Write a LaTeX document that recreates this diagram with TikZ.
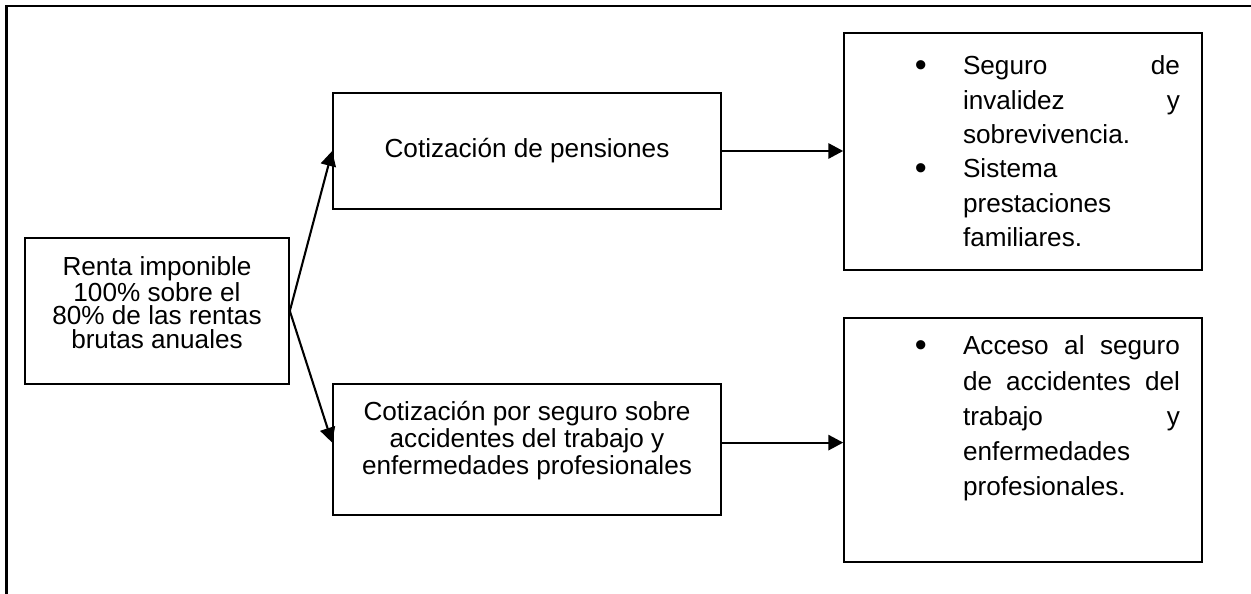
\documentclass[tikz,border=0pt]{standalone}
\usepackage{fontspec}
\setmainfont{Liberation Sans}
\usetikzlibrary{arrows.meta}
\hyphenpenalty=10000
\exhyphenpenalty=10000
\tolerance=10000
\hbadness=10000
\newcommand\vineta{\raisebox{-0.6pt}{\scalebox{1.3}{\textbullet}}}
\newenvironment{vinetas}{\hrule height0pt width\hsize\begin{list}{\vineta}{%
  \setlength{\leftmargin}{1.904cm}\setlength{\rightmargin}{0.352cm}%
  \setlength{\labelsep}{0.58cm}\setlength{\labelwidth}{1cm}%
  \setlength{\itemsep}{0pt}\setlength{\parsep}{0pt}%
  \setlength{\topsep}{0pt}\setlength{\partopsep}{0pt}}}{\end{list}}

\begin{document}
\begin{tikzpicture}[->,>={Triangle[length=6.8pt,width=7pt]},line width=0.95pt]
    \tikzstyle{caja}=[draw=black, line width=0.75pt, inner sep=0pt, text=black, font=\fontsize{11.9}{13.6}\selectfont]
    \tikzstyle{marco}=[draw=black, line width=1.05pt, -]

    \useasboundingbox (0,0) rectangle (20.016,9.504);
    \draw[marco] (0.105,0) -- (0.105,9.405) -- (20.016,9.405);

    \node[caja, minimum width=4.224cm, minimum height=2.336cm, align=center, font=\fontsize{11.9}{10.6}\selectfont] (renta) at (2.512,4.528)
        {Renta imponible\\100\% sobre el\\80\% de las rentas\\brutas anuales\rule[-8pt]{0pt}{8pt}};
    \node[caja, minimum width=6.208cm, minimum height=1.856cm] (pension) at (8.432,7.088) {Cotización de pensiones};
    \node[caja] (accid) at (8.432,2.312)
        {\parbox[c][2.096cm][t]{6.208cm}{\centering\fontsize{11.9}{12.3}\selectfont\rule{0pt}{16.4pt}Cotización por seguro sobre\\accidentes del trabajo y\\enfermedades profesionales}};
    \node[caja] (der1) at (16.368,7.08)
        {\parbox[c][3.792cm][t]{5.728cm}{\fontsize{11.9}{15.6}\selectfont\begin{vinetas}
        \item\rule{0pt}{19.1pt}Seguro de\linebreak invalidez y\linebreak sobrevivencia.
        \item Sistema\linebreak prestaciones\linebreak familiares.
        \end{vinetas}}};
    \node[caja] (der2) at (16.368,2.464)
        {\parbox[c][3.904cm][t]{5.728cm}{\fontsize{11.9}{16}\selectfont\begin{vinetas}
        \item\rule{0pt}{16.8pt}Acceso al seguro\linebreak de accidentes del\linebreak trabajo y\linebreak enfermedades\linebreak profesionales.
        \end{vinetas}}};
%    \node[] (nota) at (10,0.3) {};
    \path
     (renta.east) edge[] (pension.west)
     (renta.east) edge[] ([yshift=1.1mm]accid.west)
     (pension.east) edge[] (pension.east -| der1.west)
     ([yshift=1.1mm]accid.east) edge[] ([yshift=1.1mm]accid.east -| der2.west)
     ;
\end{tikzpicture}
\end{document}
